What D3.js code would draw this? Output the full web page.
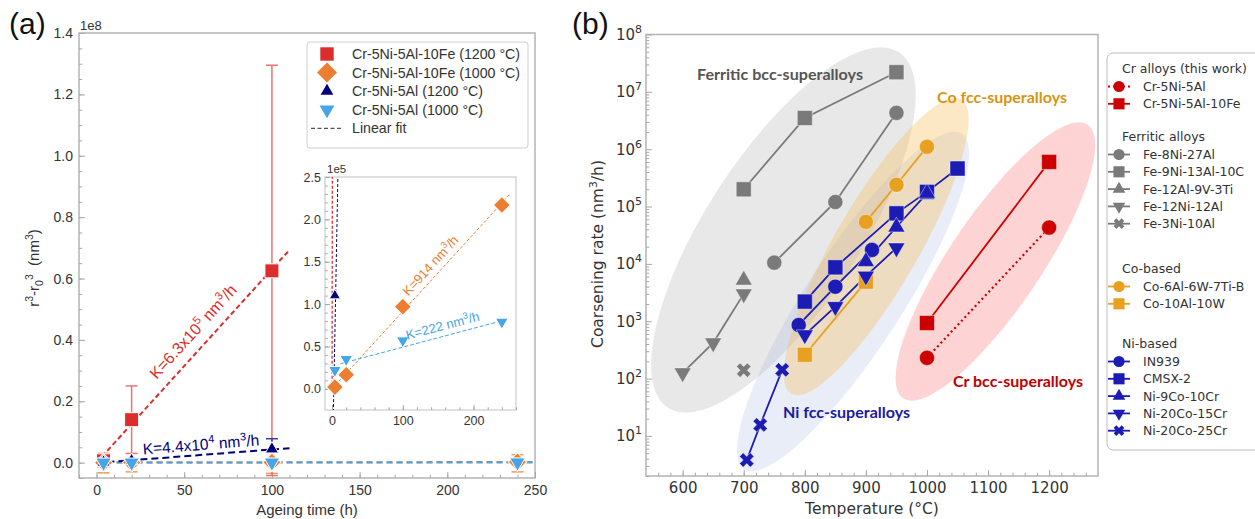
<!DOCTYPE html>
<html>
<head>
<meta charset="utf-8">
<script src="https://cdn.jsdelivr.net/npm/d3@7"></script>
<style>
  body { margin: 0; background: #fff; }
  svg { display: block; }
  text { white-space: pre; }
</style>
</head>
<body>
<svg id="fig" width="1255" height="519"></svg>
<script>
// ---------- panel (a) data: r^3 - r0^3 (nm^3) vs ageing time (h) ----------
const ageTimes = [4, 20, 100, 240];
const feHot = [0.006e8, 0.14e8, 0.625e8];            // Cr-5Ni-5Al-10Fe (1200 °C)
const feHotLo = [-0.01e8, 0.03e8, -0.042e8];
const feHotHi = [0.03e8, 0.25e8, 1.295e8];
const feCold = [0.02e5, 0.165e5, 0.97e5, 2.17e5];   // Cr-5Ni-5Al-10Fe (1000 °C)
const feColdLo = [-0.033e8, -0.03e8, -0.035e8, -0.03e8];
const feColdHi = [0.01e8, 0.01e8, 0.035e8, 0.026e8];
const alHot = [1.1e5, 6e5, 4.4e6];                   // Cr-5Ni-5Al (1200 °C)
const alHotLo = [0, 0, 0.01e8];
const alHotHi = [0, 0, 0.078e8];
const alCold = [0.22e5, 0.35e5, 0.57e5, 0.79e5];     // Cr-5Ni-5Al (1000 °C)

// linear fits  y = K*t + b
const fitNames = ['feHot', 'feCold', 'alHot', 'alCold'];
const fitK = [6.3e5, 914, 4.4e4, 222];
const fitB = [0, 0, -1.1e5, 0.27e5];
const fitEnd = [110, 250, 110, 250];

const legendA = ['Cr-5Ni-5Al-10Fe (1200 °C)', 'Cr-5Ni-5Al-10Fe (1000 °C)',
                 'Cr-5Ni-5Al (1200 °C)', 'Cr-5Ni-5Al (1000 °C)', 'Linear fit'];

// ---------- panel (b) data: coarsening rate (nm^3/h) vs temperature (°C) ----------
const crTemp = [1000, 1200];
const cr5Ni5Al = [230, 4.3e4];
const cr5Ni5Al10Fe = [930, 6.0e5];
const fe8Ni27AlT = [750, 850, 950],        fe8Ni27Al = [1.05e4, 1.2e5, 4.3e6];
const fe9Ni13Al10CT = [700, 800, 950],     fe9Ni13Al10C = [2.0e5, 3.5e6, 2.2e7];
const fe12Al9V3TiT = [700],                fe12Al9V3Ti = [5.2e3];
const fe12Ni12AlT = [600, 650, 700],       fe12Ni12Al = [126, 420, 3.0e3];
const fe3Ni10AlT = [700],                  fe3Ni10Al = [140];
const co6Al6W7TiBT = [900, 950, 1000],     co6Al6W7TiB = [5.4e4, 2.4e5, 1.1e6];
const co10Al10WT = [800, 900],             co10Al10W = [260, 4.9e3];
const in939T = [790, 850, 910],            in939 = [860, 4.0e3, 1.75e4];
const cmsx2T = [800, 850, 950, 1000, 1050], cmsx2 = [2.2e3, 8.7e3, 7.6e4, 1.8e5, 4.6e5];
const ni9Co10CrT = [900, 950, 1000],       ni9Co10Cr = [1.1e4, 4.4e4, 1.7e5];
const ni20Co15CrT = [800, 850, 900, 950],  ni20Co15Cr = [580, 1.8e3, 6.1e3, 1.9e4];
const ni20Co25CrT = [705, 727, 763],       ni20Co25Cr = [3.8, 15.6, 142];

const svg = d3.select('#fig');
const FA = 'Liberation Sans, Arial, sans-serif';
const FB = 'DejaVu Sans, sans-serif';
const cRed = '#dd2c2c', cOrange = '#ed7d31', cNavy = '#00007a', cSky = '#45a5e6';

// text with super/subscripts
function rich(t, parts, fs) {
  let shift = 0;
  parts.forEach(([s, kind]) => {
    const target = kind === 'sup' ? -0.42 * fs : kind === 'sub' ? 0.28 * fs : 0;
    t.append('tspan').attr('dy', target - shift).attr('font-size', kind ? fs * 0.7 : fs).text(s);
    shift = target;
  });
  return t;
}

// axis with inward ticks
function inAxis(g, axisFn, scale, major, minor, fmt, pos, len, pad, fs, font) {
  const mg = g.append('g').attr('transform', pos)
    .call(axisFn(scale).tickValues(minor).tickSize(-len * 0.55).tickFormat(''));
  const Mg = g.append('g').attr('transform', pos)
    .call(axisFn(scale).tickValues(major).tickSize(-len).tickPadding(pad).tickFormat(fmt));
  [mg, Mg].forEach(s => {
    s.select('.domain').remove();
    s.selectAll('line').attr('stroke', '#a8a8a8');
    s.attr('font-family', font).attr('font-size', fs);
  });
  Mg.selectAll('text').attr('fill', '#333');
  return Mg;
}

// =================== PANEL (a) ===================
const xA = d3.scaleLinear().domain([-10, 250]).range([79, 535]);
const yA = d3.scaleLinear().domain([-0.05e8, 1.4e8]).range([478, 33]);
const gA = svg.append('g');

gA.append('rect').attr('x', 79).attr('y', 33).attr('width', 456).attr('height', 445)
  .attr('fill', '#fff').attr('stroke', '#b4b4b4').attr('stroke-width', 1.5);

inAxis(gA, d3.axisBottom, xA, d3.range(0, 251, 50), d3.range(-10, 251, 10),
  d => d, 'translate(0,478)', 6, 7, 14, FA);
inAxis(gA, d3.axisLeft, yA, d3.range(0, 1.41e8, 0.2e8), d3.range(-0.05e8, 1.41e8, 0.05e8),
  d => (d / 1e8).toFixed(1), 'translate(79,0)', 6, 6, 14, FA);

gA.append('text').attr('x', 80).attr('y', 30).attr('font-family', FA).attr('font-size', 13)
  .attr('fill', '#333').text('1e8');
gA.append('text').attr('x', 9).attr('y', 34).attr('font-family', FA).attr('font-size', 30)
  .attr('fill', '#111').text('(a)');
gA.append('text').attr('x', 307).attr('y', 515).attr('text-anchor', 'middle')
  .attr('font-family', FA).attr('font-size', 15).attr('fill', '#333').text('Ageing time (h)');
rich(gA.append('text').attr('transform', 'translate(39,268) rotate(-90)').attr('text-anchor', 'middle')
  .attr('font-family', FA).attr('fill', '#333'),
  [['r'], ['3', 'sup'], ['-r'], ['0', 'sub'], ['3', 'sup'], ['  (nm'], ['3', 'sup'], [')']], 15);

const fitColor = [cRed, cOrange, cNavy, cSky];
const fitDashMain = ['5,3', '6,4', '7,4', '6,4'];

// main fits
[1, 3, 0, 2].forEach(i => {
  gA.append('line')
    .attr('x1', xA(0)).attr('y1', yA(fitB[i]))
    .attr('x2', xA(fitEnd[i])).attr('y2', yA(fitK[i] * fitEnd[i] + fitB[i]))
    .attr('stroke', fitColor[i]).attr('stroke-width', 2).attr('stroke-dasharray', fitDashMain[i]);
});

function errBars(g, xs, lo, hi, color, xS, yS) {
  lo.forEach((l, i) => {
    if (l === hi[i]) return;
    const x = xS(xs[i]);
    g.append('line').attr('x1', x).attr('x2', x).attr('y1', yS(l)).attr('y2', yS(hi[i]))
      .attr('stroke', color).attr('stroke-width', 1.5);
    [l, hi[i]].forEach(v => g.append('line').attr('x1', x - 6).attr('x2', x + 6)
      .attr('y1', yS(v)).attr('y2', yS(v)).attr('stroke', color).attr('stroke-width', 1.5));
  });
}
errBars(gA, ageTimes, feColdLo, feColdHi, '#f09a60', xA, yA);
errBars(gA, ageTimes, feHotLo, feHotHi, '#e87474', xA, yA);
errBars(gA, ageTimes, alHotLo, alHotHi, '#3a3a9a', xA, yA);

function marks(g, xs, ys, xS, yS, type, size, rot, color) {
  g.selectAll(null).data(ys.map((v, i) => [xs[i], v])).enter().append('path')
    .attr('d', d3.symbol().type(type).size(size)())
    .attr('transform', d => `translate(${xS(d[0])},${yS(d[1])}) rotate(${rot})`)
    .attr('fill', color).attr('stroke', '#fff').attr('stroke-width', 1);
}
marks(gA, ageTimes, feHot, xA, yA, d3.symbolSquare, 196, 0, cRed);
marks(gA, ageTimes, feCold, xA, yA, d3.symbolSquare, 169, 45, cOrange);
marks(gA, ageTimes, alHot, xA, yA, d3.symbolTriangle, 75, 0, cNavy);
marks(gA, ageTimes, alCold, xA, yA, d3.symbolTriangle, 105, 180, cSky);

// fit annotations
function fitLabel(g, i, t, off, xS, yS, fs, parts) {
  const x0 = xS(0), y0 = yS(fitB[i]), x1 = xS(fitEnd[i]), y1 = yS(fitK[i] * fitEnd[i] + fitB[i]);
  const ang = Math.atan2(y1 - y0, x1 - x0) * 180 / Math.PI;
  rich(g.append('text').attr('text-anchor', 'middle').attr('font-family', FA).attr('fill', fitColor[i])
    .attr('transform', `translate(${xS(t)},${yS(fitK[i] * t + fitB[i])}) rotate(${ang}) translate(0,${-off})`),
    parts, fs);
}
fitLabel(gA, 0, 62, 11, xA, yA, 16, [['K=6.3x10'], ['5', 'sup'], [' nm'], ['3', 'sup'], ['/h']]);
fitLabel(gA, 2, 60, 5, xA, yA, 15.5, [['K=4.4x10'], ['4', 'sup'], [' nm'], ['3', 'sup'], ['/h']]);

// legend (a)
const lg = gA.append('g');
lg.append('rect').attr('x', 307).attr('y', 42).attr('width', 221).attr('height', 106).attr('rx', 3)
  .attr('fill', '#fff').attr('stroke', '#cfcfcf');
const legSym = [[d3.symbolSquare, 180, 0, cRed], [d3.symbolSquare, 200, 45, cOrange],
                [d3.symbolTriangle, 70, 0, cNavy], [d3.symbolTriangle, 95, 180, cSky]];
legendA.forEach((name, i) => {
  const y = 54 + i * 18.6;
  if (i < 4) {
    lg.append('path').attr('d', d3.symbol().type(legSym[i][0]).size(legSym[i][1])())
      .attr('transform', `translate(327,${y}) rotate(${legSym[i][2]})`).attr('fill', legSym[i][3]);
  } else {
    lg.append('line').attr('x1', 311).attr('x2', 341).attr('y1', y).attr('y2', y)
      .attr('stroke', '#555').attr('stroke-width', 1.3).attr('stroke-dasharray', '4,2.5');
  }
  lg.append('text').attr('x', 352).attr('y', y + 5).attr('font-family', FA).attr('font-size', 14.2)
    .attr('fill', '#333').text(name);
});

// inset
const xI = d3.scaleLinear().domain([-10, 260]).range([325, 516]);
const yI = d3.scaleLinear().domain([-0.25e5, 2.5e5]).range([410, 177]);
const gI = gA.append('g');
gI.append('rect').attr('x', 325).attr('y', 177).attr('width', 191).attr('height', 233)
  .attr('fill', '#fff').attr('stroke', '#cccccc').attr('stroke-width', 1.2);
inAxis(gI, d3.axisBottom, xI, [0, 100, 200], d3.range(0, 261, 20), d => d, 'translate(0,410)', 5, 6, 12.5, FA);
inAxis(gI, d3.axisLeft, yI, d3.range(0, 2.51e5, 0.5e5), d3.range(0, 2.51e5, 0.1e5),
  d => (d / 1e5).toFixed(1), 'translate(325,0)', 5, 4, 12.5, FA);
gI.append('text').attr('x', 327).attr('y', 173).attr('font-family', FA).attr('font-size', 11.5)
  .attr('fill', '#333').text('1e5');
svg.append('clipPath').attr('id', 'clipI').append('rect')
  .attr('x', 325).attr('y', 177).attr('width', 191).attr('height', 233);
const gIc = gI.append('g').attr('clip-path', 'url(#clipI)');
const fitStartI = [0, 0, 0, 12];
const fitEndI = [1, 252, 10, 250];
[0, 2, 1, 3].forEach(i => {
  gIc.append('line')
    .attr('x1', xI(fitStartI[i])).attr('y1', yI(fitK[i] * fitStartI[i] + fitB[i]))
    .attr('x2', xI(fitEndI[i])).attr('y2', yI(fitK[i] * fitEndI[i] + fitB[i]))
    .attr('stroke', fitColor[i]).attr('stroke-width', i === 0 ? 1.3 : 1).attr('stroke-dasharray', i === 3 ? '4,2' : '3,2');
});
marks(gIc, ageTimes, feCold, xI, yI, d3.symbolSquare, 144, 45, cOrange);
marks(gIc, ageTimes, alHot, xI, yI, d3.symbolTriangle, 55, 0, cNavy);
marks(gIc, ageTimes, alCold, xI, yI, d3.symbolTriangle, 70, 180, cSky);
fitLabel(gI, 1, 150, 6, xI, yI, 13, [['K=914 nm'], ['3', 'sup'], ['/h']]);
fitLabel(gI, 3, 160, 6, xI, yI, 13, [['K=222 nm'], ['3', 'sup'], ['/h']]);

// =================== PANEL (b) ===================
const xB = d3.scaleLinear().domain([540, 1280]).range([646, 1098]);
const yB = d3.scaleLog().domain([2, 1e8]).range([476, 34.5]);
const gB = svg.append('g');

gB.append('rect').attr('x', 646).attr('y', 34.5).attr('width', 452).attr('height', 441.5)
  .attr('fill', '#fff').attr('stroke', '#b4b4b4').attr('stroke-width', 1.5);

// shaded alloy-family regions: centre in data units, semi-axes in px
const regionName = ['Ferritic', 'Ni', 'Co', 'Cr'];
const regionT = [765, 879, 917, 1112];
const regionV = [3.9e4, 2.2e3, 2.0e4, 1.1e4];
const regionA = [212, 200, 170, 165];
const regionB = [77, 48, 42, 46];
const regionRot = [-57, -57, -60, -56];
const regionFill = ['rgba(200,200,200,0.42)', 'rgba(150,175,225,0.22)',
                    'rgba(245,190,90,0.35)', 'rgba(250,120,120,0.33)'];
regionName.forEach((n, i) => {
  gB.append('ellipse').attr('cx', 0).attr('cy', 0).attr('rx', regionA[i]).attr('ry', regionB[i])
    .attr('transform', `translate(${xB(regionT[i])},${yB(regionV[i])}) rotate(${regionRot[i]})`)
    .attr('fill', regionFill[i]);
});

inAxis(gB, d3.axisBottom, xB, d3.range(600, 1201, 100), d3.range(560, 1280, 20),
  d => d, 'translate(0,476)', 6, 6, 15, FB);
const yMinor = [];
for (let e = 0; e < 8; e++) for (let k = 2; k < 10; k++) {
  const v = k * Math.pow(10, e);
  if (v >= 2 && v <= 1e8) yMinor.push(v);
}
const by = inAxis(gB, d3.axisLeft, yB, d3.range(1, 9).map(e => Math.pow(10, e)), yMinor,
  () => '', 'translate(646,0)', 6, 4, 15, FB);
by.selectAll('.tick text').each(function (d) {
  const t = d3.select(this);
  t.append('tspan').text('10');
  t.append('tspan').attr('dy', -7).attr('font-size', 11).text(Math.round(Math.log10(d)));
});

gB.append('text').attr('x', 572).attr('y', 34).attr('font-family', FA).attr('font-size', 30)
  .attr('fill', '#111').text('(b)');
gB.append('text').attr('x', 872).attr('y', 514).attr('text-anchor', 'middle')
  .attr('font-family', FB).attr('font-size', 15.5).attr('fill', '#333').text('Temperature (°C)');
rich(gB.append('text').attr('transform', 'translate(603,254) rotate(-90)').attr('text-anchor', 'middle')
  .attr('font-family', FB).attr('fill', '#333'),
  [['Coarsening rate (nm'], ['3', 'sup'], ['/h)']], 15.5);

const gray = '#7a7a7a', cOr = '#e8a020', cBl = '#1c1cb4', cCr = '#cc0000';
const seriesB = [
  { name: 'Cr-5Ni-5Al', T: crTemp, v: cr5Ni5Al, c: cCr, s: 'circle', dash: '2,3' },
  { name: 'Cr-5Ni-5Al-10Fe', T: crTemp, v: cr5Ni5Al10Fe, c: cCr, s: 'square' },
  { name: 'Fe-8Ni-27Al', T: fe8Ni27AlT, v: fe8Ni27Al, c: gray, s: 'circle' },
  { name: 'Fe-9Ni-13Al-10C', T: fe9Ni13Al10CT, v: fe9Ni13Al10C, c: gray, s: 'square' },
  { name: 'Fe-12Al-9V-3Ti', T: fe12Al9V3TiT, v: fe12Al9V3Ti, c: gray, s: 'up' },
  { name: 'Fe-12Ni-12Al', T: fe12Ni12AlT, v: fe12Ni12Al, c: gray, s: 'down' },
  { name: 'Fe-3Ni-10Al', T: fe3Ni10AlT, v: fe3Ni10Al, c: gray, s: 'x' },
  { name: 'Co-6Al-6W-7Ti-B', T: co6Al6W7TiBT, v: co6Al6W7TiB, c: cOr, s: 'circle' },
  { name: 'Co-10Al-10W', T: co10Al10WT, v: co10Al10W, c: cOr, s: 'square' },
  { name: 'IN939', T: in939T, v: in939, c: cBl, s: 'circle' },
  { name: 'CMSX-2', T: cmsx2T, v: cmsx2, c: cBl, s: 'square' },
  { name: 'Ni-9Co-10Cr', T: ni9Co10CrT, v: ni9Co10Cr, c: cBl, s: 'up' },
  { name: 'Ni-20Co-15Cr', T: ni20Co15CrT, v: ni20Co15Cr, c: cBl, s: 'down' },
  { name: 'Ni-20Co-25Cr', T: ni20Co25CrT, v: ni20Co25Cr, c: cBl, s: 'x' }
];
const symDef = {
  circle: [d3.symbolCircle, 180, 0], square: [d3.symbolSquare, 225, 0],
  up: [d3.symbolTriangle, 125, 0], down: [d3.symbolTriangle, 125, 180], x: [d3.symbolCross, 130, 45]
};
const drawOrder = [2, 3, 4, 5, 6, 7, 8, 9, 10, 11, 12, 13, 0, 1];
const lineB = d3.line().x(d => xB(d[0])).y(d => yB(d[1]));
drawOrder.forEach(i => {
  const s = seriesB[i];
  const pts = s.T.map((t, j) => [t, s.v[j]]);
  gB.append('path').attr('d', lineB(pts)).attr('fill', 'none').attr('stroke', s.c)
    .attr('stroke-width', s.dash ? 2.2 : 1.8).attr('stroke-dasharray', s.dash || null);
});
drawOrder.forEach(i => {
  const s = seriesB[i];
  const sd = symDef[s.s];
  gB.selectAll(null).data(s.T.map((t, j) => [t, s.v[j]])).enter().append('path')
    .attr('d', d3.symbol().type(sd[0]).size(sd[1])())
    .attr('transform', d => `translate(${xB(d[0])},${yB(d[1])}) rotate(${sd[2]})`)
    .attr('fill', s.c).attr('stroke', 'rgba(255,255,255,0.55)').attr('stroke-width', 0.8);
});

// family labels
const famText = ['Ferritic bcc-superalloys', 'Co fcc-superalloys', 'Ni fcc-superalloys', 'Cr bcc-superalloys'];
const famColor = ['#555555', '#d8950f', '#1a1aa0', '#c00000'];
const famX = [697, 937, 783, 953], famY = [80, 103, 418, 387], famW = [166, 130, 127, 130];
famText.forEach((t, i) => {
  gB.append('text').attr('x', famX[i]).attr('y', famY[i]).attr('font-family', 'Lato, Open Sans, sans-serif')
    .attr('font-weight', 700).attr('font-size', 16).attr('fill', famColor[i])
    .attr('textLength', famW[i]).attr('lengthAdjust', 'spacingAndGlyphs').text(t);
});

// legend (b)
const lgB = gB.append('g');
lgB.append('rect').attr('x', 1107).attr('y', 53).attr('width', 160).attr('height', 397).attr('rx', 6)
  .attr('fill', '#fff').attr('stroke', '#bdbdbd');
const legGroups = [
  { title: 'Cr alloys (this work)', y: 68, items: [0, 1] },
  { title: 'Ferritic alloys', y: 136, items: [2, 3, 4, 5, 6] },
  { title: 'Co-based', y: 268, items: [7, 8] },
  { title: 'Ni-based', y: 343, items: [9, 10, 11, 12, 13] }
];
legGroups.forEach(gr => {
  lgB.append('text').attr('x', 1122).attr('y', gr.y + 5).attr('font-family', FB).attr('font-size', 12.5)
    .attr('fill', '#333').text(gr.title);
  gr.items.forEach((idx, k) => {
    const s = seriesB[idx], sd = symDef[s.s];
    const y = gr.y + 18.5 + k * 17.3;
    lgB.append('line').attr('x1', 1108).attr('x2', 1130).attr('y1', y).attr('y2', y)
      .attr('stroke', s.c).attr('stroke-width', 1.8).attr('stroke-dasharray', s.dash || null);
    lgB.append('path').attr('d', d3.symbol().type(sd[0]).size(sd[1] * 0.55)())
      .attr('transform', `translate(1119,${y}) rotate(${sd[2]})`).attr('fill', s.c);
    lgB.append('text').attr('x', 1143).attr('y', y + 4.5).attr('font-family', FB).attr('font-size', 12.5)
      .attr('fill', '#333').text(s.name);
  });
});
</script>
</body>
</html>
